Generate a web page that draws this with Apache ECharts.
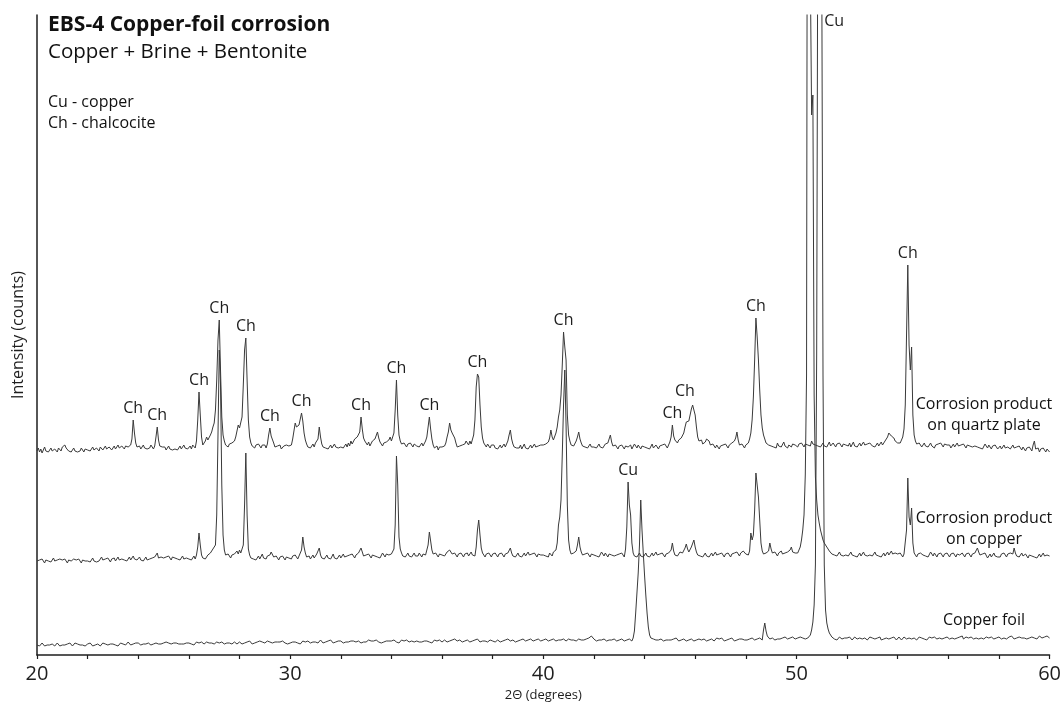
<!DOCTYPE html>
<html>
<head>
<meta charset="utf-8">
<title>EBS-4 Copper-foil corrosion</title>
<script src="https://cdn.jsdelivr.net/npm/echarts@6.0.0/dist/echarts.min.js"></script>
<style>
  html, body { margin: 0; padding: 0; background: #ffffff; }
  #chart { width: 1064px; height: 708px; }
</style>
</head>
<body>
<div id="chart"></div>
<script>
// Scan parameters: 2θ from 20° in 0.05° steps (one row = one degree, 20 readings)
const ANGLE_START = 20;
const ANGLE_STEP = 0.05;

// Raw intensities, copper foil
const copperFoil = [
  10,11,9,10,12,10,9,11,10,12,10,9,11,10,9,11,12,10,9,11,
  10,12,10,9,11,10,12,11,9,10,12,10,11,9,10,12,10,11,9,10,
  11,10,12,10,9,11,10,12,11,10,9,11,12,10,11,9,10,12,11,10,
  11,12,10,11,9,11,12,10,11,12,10,11,13,11,10,12,11,10,12,11,
  12,11,10,12,11,13,11,10,12,11,10,12,11,13,12,10,11,12,11,10,
  12,11,13,11,12,10,11,13,12,11,12,10,11,13,11,12,11,10,12,11,
  12,13,11,12,10,12,13,11,12,11,13,12,11,12,13,11,12,10,12,13,
  11,12,13,11,12,11,13,12,11,13,12,11,12,13,11,12,13,12,11,12,
  13,12,11,13,12,11,13,12,14,12,11,13,12,11,13,12,14,12,13,11,
  12,13,14,12,13,11,12,14,13,12,13,11,13,12,14,13,12,13,11,13,
  12,14,13,12,13,14,12,13,11,13,14,12,13,12,14,13,12,14,13,12,
  13,14,12,13,15,13,12,14,13,12,14,13,15,13,12,14,13,12,14,13,
  14,13,12,14,13,15,13,12,14,13,14,12,13,15,14,13,12,14,13,14,
  13,14,15,13,14,12,14,13,15,14,13,14,12,14,13,15,14,13,14,12,
  14,13,15,14,13,14,12,14,15,13,14,13,15,14,13,12,14,15,13,14,
  14,15,13,14,13,15,14,13,14,15,13,14,12,14,15,13,14,13,15,14,
  13,14,15,14,13,15,14,13,15,14,16,15,14,13,15,14,13,15,14,13,
  15,14,13,15,14,13,15,14,16,14,13,15,14,13,14,15,13,14,15,14,
  14,15,13,14,15,14,13,15,14,13,15,14,16,15,14,13,15,14,13,15,
  14,13,15,14,16,15,14,13,15,14,16,15,14,13,15,14,16,15,14,13,
  15,14,16,15,14,13,15,14,16,15,14,16,15,13,15,14,16,15,14,15,
  16,14,15,13,15,16,14,15,16,14,15,13,15,14,16,15,17,18,19,17,
  16,15,14,16,15,17,15,14,16,15,14,16,15,17,15,14,16,15,14,16,
  15,14,16,15,14,16,15,14,16,15,14,17,24,42,62,82,110,155,125,102,
  80,60,42,28,20,17,15,16,14,15,16,15,14,16,15,14,16,15,17,15,
  16,15,14,16,15,17,15,14,16,15,17,16,15,14,16,15,17,16,15,14,
  16,15,17,16,14,15,17,16,15,14,16,15,17,16,15,14,16,17,15,16,
  15,17,16,14,16,15,17,16,15,17,16,14,16,15,17,16,15,16,17,15,
  16,15,17,16,15,17,16,15,17,16,15,17,16,15,25,32,24,19,17,16,
  15,17,16,15,17,16,18,16,15,17,16,18,17,16,15,17,16,18,17,16,
  16,17,15,18,16,17,15,16,18,17,18,20,25,33,50,90,300,800,1600,1500,
  700,280,90,45,32,26,22,20,18,17,16,17,15,16,18,17,16,15,17,16,
  17,16,18,17,15,16,18,17,16,18,17,15,16,18,17,16,15,17,18,16,
  17,15,16,18,17,16,18,15,17,16,18,17,15,16,18,17,16,18,17,15,
  16,18,17,15,16,18,17,16,18,17,15,16,18,17,16,15,17,18,16,17,
  18,16,17,15,17,18,16,17,15,18,17,16,18,17,15,16,18,17,16,18,
  17,16,18,17,15,16,18,17,16,18,17,19,16,17,18,16,17,15,18,17,
  16,18,17,15,16,18,17,19,16,17,18,16,17,15,18,17,16,18,17,16,
  18,17,16,18,17,19,16,17,18,16,19,17,16,18,17,19,18,16,17,18,
  17,19,16,18,17,16,18,19,17,18,16,17,19,18,17,16,18,17,19,17,
  17
];

// Raw intensities, corrosion product scraped from the copper
const productOnCopper = [
  14,12,15,13,16,14,12,15,13,14,16,13,15,17,14,12,15,13,16,14,
  15,13,16,14,12,15,17,14,13,16,14,15,13,16,14,12,15,17,14,15,
  14,16,13,15,17,14,16,13,15,14,16,18,15,13,16,14,17,15,13,16,
  15,17,14,16,18,15,13,16,18,15,17,14,16,18,15,17,19,16,18,15,
  16,18,15,17,14,16,18,15,17,16,14,17,15,18,20,22,17,15,18,16,
  17,15,18,16,19,17,15,18,16,17,19,16,18,15,17,19,16,18,17,15,
  16,18,15,17,19,16,20,28,42,30,20,17,19,16,18,20,19,22,24,26,
  24,30,60,140,225,190,90,40,25,20,18,21,19,17,20,18,21,22,24,21,
  25,22,20,30,70,122,60,26,20,17,19,16,18,15,17,19,16,18,21,17,
  18,16,19,17,20,23,21,18,16,19,17,15,18,16,19,17,15,18,16,17,
  18,16,19,17,20,18,16,19,21,25,38,28,22,18,17,19,16,18,20,17,
  18,21,23,27,20,17,19,16,18,20,17,19,16,18,21,17,19,16,18,20,
  17,19,21,18,16,19,17,20,18,21,19,17,20,18,22,24,27,23,19,18,
  20,18,21,19,17,20,22,19,21,18,20,17,19,22,20,18,21,19,20,22,
  21,23,26,50,119,90,38,26,22,19,21,18,20,22,19,21,18,20,22,19,
  21,19,22,20,18,21,23,20,22,30,43,34,25,21,19,22,20,18,21,19,
  20,22,19,21,23,22,25,24,21,19,22,20,18,21,19,22,20,18,21,20,
  22,19,21,23,20,22,19,28,45,55,40,27,22,20,18,21,19,22,20,18,
  21,19,22,20,18,21,19,22,20,18,21,19,22,24,27,22,19,21,18,20,
  22,19,21,18,20,22,19,21,23,20,18,21,19,22,20,18,21,23,20,22,
  20,22,19,21,18,22,20,19,23,21,25,32,50,58,75,120,170,205,150,70,
  35,25,21,19,22,20,24,30,38,28,23,20,18,21,19,22,20,18,21,19,
  20,22,19,21,18,20,23,21,19,22,20,18,21,23,20,22,19,21,20,18,
  21,19,22,20,18,26,48,93,70,60,32,22,19,21,18,20,22,19,21,18,
  20,22,19,21,18,20,22,19,21,23,20,18,21,19,22,20,18,21,19,22,
  21,25,32,24,20,22,19,21,23,25,22,24,27,31,26,23,25,28,30,35,
  28,23,20,22,19,21,18,20,22,19,21,18,20,22,19,21,23,20,18,21,
  19,22,20,18,21,19,22,20,18,21,19,22,20,23,21,19,22,20,24,22,
  21,23,20,24,42,35,40,65,102,90,78,55,32,24,21,19,22,20,24,32,
  26,22,20,23,21,19,22,20,24,21,19,22,20,23,21,25,28,23,21,22,
  20,22,24,28,35,45,60,100,200,1100,1000,600,460,480,180,98,75,60,52,45,
  40,35,32,30,28,26,24,22,21,23,20,22,19,21,23,20,22,19,21,20,
  22,19,21,23,20,22,19,21,18,20,22,19,21,23,20,22,19,21,20,22,
  19,21,23,20,22,19,21,18,20,22,19,21,23,20,22,24,21,19,22,20,
  21,19,22,20,18,21,23,45,97,58,50,67,32,22,20,18,21,19,22,20,
  20,22,19,21,18,20,23,21,19,22,20,18,21,19,22,20,18,21,19,22,
  20,18,21,19,22,20,18,21,23,20,19,22,20,18,21,19,22,20,18,21,
  19,22,24,27,23,20,18,21,19,22,20,17,19,21,18,20,22,19,21,18,
  20,18,21,19,22,20,18,21,19,22,23,21,27,22,19,21,18,20,22,19,
  18,21,19,17,20,22,19,21,18,20,17,19,21,18,20,22,19,17,20,18,
  19
];

// Raw intensities, corrosion product mounted on a quartz plate
const productOnQuartz = [
  14,17,13,16,12,15,18,14,16,13,15,17,14,12,16,15,13,17,15,14,
  18,16,20,17,15,14,16,13,15,17,14,16,13,15,14,17,15,13,16,14,
  15,17,14,16,18,15,13,17,16,14,18,16,15,17,19,16,14,18,17,15,
  17,19,16,18,20,17,15,19,18,16,19,21,18,20,20,26,45,32,22,18,
  17,19,16,18,20,17,19,16,18,17,20,18,16,19,28,38,25,19,17,18,
  16,18,15,17,19,16,18,15,17,16,18,15,17,19,16,18,20,17,19,16,
  17,19,16,20,18,17,24,45,73,50,28,20,22,24,28,25,27,30,33,38,
  42,55,85,125,145,95,48,30,24,20,22,18,21,19,22,20,24,28,34,40,
  37,35,48,80,115,127,85,45,28,22,19,21,17,20,18,21,19,17,20,18,
  20,17,21,30,37,29,28,22,18,16,19,17,20,16,18,19,17,20,18,19,
  18,20,26,34,42,38,36,40,46,52,44,32,25,21,18,20,17,19,21,18,
  22,20,26,38,28,21,18,20,17,19,16,18,20,17,19,21,18,20,17,19,
  18,20,17,19,21,18,22,19,24,21,23,26,25,28,27,33,48,36,27,24,
  22,20,23,19,21,24,22,26,28,33,27,23,21,19,22,20,23,21,25,28,
  24,26,32,55,85,50,30,24,21,19,22,20,18,21,19,22,20,18,21,20,
  19,21,18,20,22,19,21,24,28,38,48,36,26,20,17,16,19,15,18,17,
  18,20,19,22,28,33,42,35,32,30,27,22,18,16,19,17,20,18,21,24,
  22,20,24,21,23,30,45,78,91,88,60,38,27,22,20,18,21,19,17,20,
  18,20,17,19,16,18,20,17,19,21,18,20,24,30,35,26,21,18,20,17,
  19,17,20,16,18,21,17,19,16,18,20,17,19,21,18,16,19,17,20,18,
  20,18,21,19,23,27,35,28,25,27,32,38,48,55,70,100,133,118,105,50,
  30,24,20,22,19,21,24,28,33,26,22,19,21,18,20,17,19,21,18,20,
  18,20,17,19,21,18,20,17,19,21,20,22,26,30,23,19,17,20,18,16,
  19,17,20,18,16,19,21,18,17,20,16,18,21,19,17,20,18,16,19,17,
  18,20,17,19,16,18,21,17,19,20,18,16,19,17,20,18,21,19,17,20,
  23,28,40,29,25,24,22,25,24,27,29,32,38,43,41,44,50,56,60,62,
  50,38,28,24,22,25,21,19,23,26,28,24,20,18,21,19,17,20,18,16,
  19,17,20,18,21,19,17,20,18,22,20,24,27,33,25,20,18,21,19,17,
  20,18,22,26,32,45,68,105,147,128,105,75,50,37,30,26,22,24,20,22,
  19,21,18,20,17,22,19,21,18,20,23,19,21,17,20,22,18,21,19,20,
  20,18,21,19,22,20,18,21,23,20,22,19,24,21,23,20,22,19,21,18,
  20,22,19,21,18,20,23,19,21,22,20,18,21,19,22,20,18,21,19,20,
  21,19,22,18,20,23,19,21,18,20,22,19,21,23,20,18,21,19,22,20,
  19,21,18,20,22,19,21,23,20,22,24,26,28,32,30,29,31,27,24,22,
  22,20,22,24,28,36,60,130,200,120,95,118,50,30,24,21,19,22,20,18,
  20,22,19,21,18,20,22,19,21,17,20,18,21,19,22,20,18,21,19,20,
  18,20,17,19,21,18,20,22,19,17,20,18,21,19,17,20,18,19,21,18,
  17,19,21,18,20,17,19,16,18,21,19,17,20,18,16,19,17,20,18,16,
  17,19,16,18,20,17,15,18,19,16,18,20,17,15,18,16,19,17,15,18,
  16,14,17,15,18,16,14,20,24,16,15,17,13,16,14,17,15,13,16,14,
  13
];

// Vertical offsets used to stack the three patterns
const stackOffsets = { foil: 0, copper: 80, quartz: 190 };

// Phase identifications: [2θ of the reflection, phase code]
const foilPhases = [[50.9, 'Cu']];
const copperPhases = [[43.35, 'Cu']];
const quartzPhases = [
  [23.8, 'Ch'], [24.75, 'Ch'], [26.4, 'Ch'], [27.2, 'Ch'], [28.25, 'Ch'],
  [29.2, 'Ch'], [30.45, 'Ch'], [32.8, 'Ch'], [34.2, 'Ch'], [35.5, 'Ch'],
  [37.4, 'Ch'], [40.8, 'Ch'], [45.1, 'Ch'], [45.95, 'Ch'], [48.4, 'Ch'],
  [54.4, 'Ch']
];

// Axis settings
const X_MIN = 20, X_MAX = 60, X_TICK_STEP = 2, X_LABEL_STEP = 10;
const Y_MIN = 0, Y_MAX = 640;

const FONT = '"Open Sans", "Noto Sans", sans-serif';
const INK = '#1e1e1e';
const TRACE = '#3a3a3a';

// Small horizontal nudges so neighbouring phase codes do not collide
const tagNudge = { 45.95: -9 };

function toPoints(values, offset) {
  return values.map((v, i) => [+(ANGLE_START + i * ANGLE_STEP).toFixed(2), v + offset]);
}

function phaseMarks(points, phases) {
  return phases.map(([angle, code]) => {
    const c = Math.round((angle - ANGLE_START) / ANGLE_STEP);
    let top = -Infinity;
    for (let k = Math.max(0, c - 2); k <= Math.min(points.length - 1, c + 2); k++) {
      top = Math.max(top, points[k][1]);
    }
    const clipped = top > Y_MAX;
    const dx = tagNudge[angle] || 0;
    return {
      name: code,
      coord: [angle, clipped ? Y_MAX : top],
      label: clipped
        ? { position: 'right', distance: 5, offset: [0, 6] }
        : { position: 'top', distance: 4, offset: [dx, 0] }
    };
  });
}

function pattern(name, values, offset, phases) {
  const points = toPoints(values, offset);
  return {
    name: name,
    type: 'line',
    data: points,
    showSymbol: false,
    symbol: 'none',
    clip: true,
    silent: true,
    animation: false,
    lineStyle: { color: TRACE, width: 1 },
    markPoint: {
      silent: true,
      animation: false,
      symbol: 'circle',
      symbolSize: 0,
      label: {
        show: true,
        formatter: p => p.name,
        fontFamily: FONT,
        fontSize: 16,
        color: INK
      },
      data: phaseMarks(points, phases)
    }
  };
}

const chart = echarts.init(document.getElementById('chart'), null, { renderer: 'canvas' });

chart.setOption({
  backgroundColor: '#ffffff',
  animation: false,
  grid: { left: 37, right: 14, top: 15, bottom: 53, containLabel: false },
  xAxis: {
    type: 'value',
    min: X_MIN,
    max: X_MAX,
    interval: X_TICK_STEP,
    name: '2\u0398 (degrees)',
    nameLocation: 'middle',
    nameGap: 33,
    nameTextStyle: { fontFamily: FONT, fontSize: 13, color: INK },
    axisLine: { onZero: false, lineStyle: { color: INK, width: 1.5 } },
    axisTick: { show: true, inside: false, length: 4, lineStyle: { color: INK, width: 1.2 } },
    axisLabel: {
      formatter: v => (v % X_LABEL_STEP === 0 ? String(v) : ''),
      fontFamily: FONT,
      fontSize: 20,
      color: INK,
      margin: 9
    },
    splitLine: { show: false }
  },
  yAxis: {
    type: 'value',
    min: Y_MIN,
    max: Y_MAX,
    name: 'Intensity (counts)',
    nameLocation: 'middle',
    nameGap: 11,
    nameTextStyle: { fontFamily: FONT, fontSize: 16, color: INK },
    axisLine: { show: true, lineStyle: { color: INK, width: 1.5 } },
    axisTick: { show: false },
    axisLabel: { show: false },
    splitLine: { show: false }
  },
  series: [
    pattern('Copper foil', copperFoil, stackOffsets.foil, foilPhases),
    pattern('Corrosion product on copper', productOnCopper, stackOffsets.copper, copperPhases),
    pattern('Corrosion product on quartz plate', productOnQuartz, stackOffsets.quartz, quartzPhases)
  ],
  graphic: [
    { type: 'text', left: 48, top: 15, style: { text: 'EBS-4 Copper-foil corrosion', font: 'bold 21px ' + FONT, fill: '#111' } },
    { type: 'text', left: 48, top: 42, style: { text: 'Copper + Brine + Bentonite', font: '20.5px ' + FONT, fill: '#111' } },
    { type: 'text', left: 48, top: 94, style: { text: 'Cu - copper', font: '16px ' + FONT, fill: '#111' } },
    { type: 'text', left: 48, top: 115, style: { text: 'Ch - chalcocite', font: '16px ' + FONT, fill: '#111' } },
    { type: 'text', x: 984, y: 415, style: { text: 'Corrosion product\non quartz plate', font: '16px ' + FONT, fill: '#111', align: 'center', verticalAlign: 'middle', lineHeight: 21 } },
    { type: 'text', x: 984, y: 529, style: { text: 'Corrosion product\non copper', font: '16px ' + FONT, fill: '#111', align: 'center', verticalAlign: 'middle', lineHeight: 21 } },
    { type: 'text', x: 984, y: 620, style: { text: 'Copper foil', font: '16px ' + FONT, fill: '#111', align: 'center', verticalAlign: 'middle' } }
  ]
});
</script>
</body>
</html>
